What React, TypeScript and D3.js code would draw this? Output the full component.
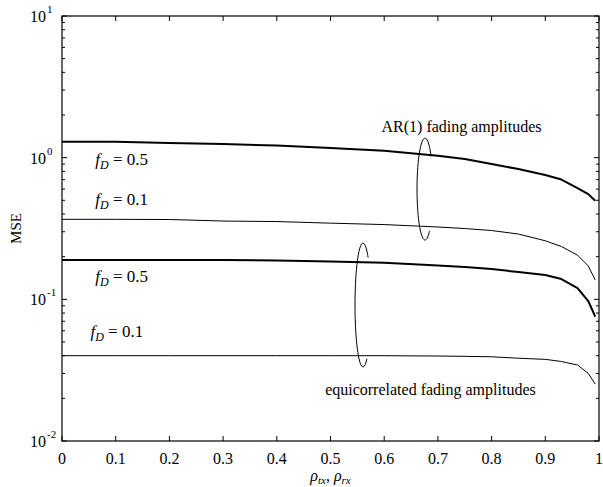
import { useEffect, useRef } from "react";
import * as d3 from "d3";

// correlation values along the x axis
const rho = [0, 0.1, 0.2, 0.3, 0.4, 0.5, 0.6, 0.7, 0.75, 0.8, 0.85, 0.9, 0.93, 0.96, 0.98, 0.993];

// MSE
const arHigh = [1.295, 1.295, 1.268, 1.247, 1.217, 1.169, 1.119, 1.031, 0.977, 0.901, 0.831, 0.754, 0.701, 0.61, 0.553, 0.497];
const arLow = [0.367, 0.367, 0.366, 0.357, 0.354, 0.345, 0.337, 0.324, 0.316, 0.306, 0.289, 0.259, 0.236, 0.205, 0.172, 0.137];
const eqHigh = [0.1894, 0.1894, 0.1894, 0.1894, 0.1879, 0.1849, 0.1813, 0.1732, 0.169, 0.1636, 0.1558, 0.1485, 0.1391, 0.1202, 0.0973, 0.0754];
const eqLow = [0.04, 0.04, 0.04, 0.04, 0.04, 0.04, 0.04, 0.0398, 0.0396, 0.0393, 0.0384, 0.0377, 0.0364, 0.0344, 0.03, 0.0252];

const series = [
  { values: arHigh, width: 2 },
  { values: arLow, width: 1 },
  { values: eqHigh, width: 2 },
  { values: eqLow, width: 1 },
];

// f_D labels: [rho, mse, value]
const fdLabels: [number, number, string][] = [
  [0.062, 0.89, "0.5"],
  [0.062, 0.463, "0.1"],
  [0.062, 0.133, "0.5"],
  [0.053, 0.0544, "0.1"],
];

const decades = [0.01, 0.1, 1, 10];
const decadeExp = ["-2", "-1", "0", "1"];

export default function App() {
  const ref = useRef<SVGSVGElement>(null);

  useEffect(() => {
    const W = 603;
    const H = 487;
    const margin = { top: 16, right: 4, bottom: 46, left: 62 };

    const x = d3.scaleLinear().domain([0, 1]).range([margin.left, W - margin.right]);
    const y = d3.scaleLog().domain([0.01, 10]).range([H - margin.bottom, margin.top]);

    const svg = d3.select(ref.current);
    svg.selectAll("*").remove();
    const font = "'Liberation Serif', 'Times New Roman', serif";
    svg.attr("font-family", font);

    const x0 = x.range()[0], x1 = x.range()[1];
    const y0 = y.range()[0], y1 = y.range()[1];

    // x ticks, inside on top and bottom
    const xt = x.ticks(10);
    svg.selectAll("line.xt")
      .data(xt)
      .enter()
      .append("line")
      .attr("x1", (d) => x(d))
      .attr("x2", (d) => x(d))
      .attr("y1", y0)
      .attr("y2", y0 - 5)
      .attr("stroke", "black");
    svg.selectAll("line.xtt")
      .data(xt)
      .enter()
      .append("line")
      .attr("x1", (d) => x(d))
      .attr("x2", (d) => x(d))
      .attr("y1", y1)
      .attr("y2", y1 + 5)
      .attr("stroke", "black");
    svg.selectAll("text.xl")
      .data(xt)
      .enter()
      .append("text")
      .attr("x", (d) => x(d))
      .attr("y", y0 + 23)
      .attr("text-anchor", "middle")
      .attr("font-size", 16)
      .text((d) => String(+d.toFixed(1)));

    // y ticks, log minor and major
    const yt = y.ticks();
    const isMajor = (d: number) => Math.abs(Math.log10(d) - Math.round(Math.log10(d))) < 1e-6;
    yt.forEach((d) => {
      const len = isMajor(d) ? 5 : 3;
      svg.append("line").attr("x1", x0).attr("x2", x0 + len).attr("y1", y(d)).attr("y2", y(d)).attr("stroke", "black");
      svg.append("line").attr("x1", x1).attr("x2", x1 - len).attr("y1", y(d)).attr("y2", y(d)).attr("stroke", "black");
    });
    decades.forEach((d, i) => {
      const t = svg.append("text")
        .attr("x", x0 - 32)
        .attr("y", y(d) + 6)
        .attr("font-size", 16);
      t.append("tspan").text("10");
      t.append("tspan").attr("dy", -9).attr("dx", 1).attr("font-size", 11).text(decadeExp[i]);
    });

    // frame
    svg.append("rect")
      .attr("x", x0)
      .attr("y", y1)
      .attr("width", x1 - x0)
      .attr("height", y0 - y1)
      .attr("fill", "none")
      .attr("stroke", "black")
      .attr("stroke-width", 1.2);

    // curves
    const line = d3.line<number>()
      .x((d, i) => x(rho[i]))
      .y((d) => y(d));
    series.forEach((s) => {
      svg.append("path")
        .attr("d", line(s.values))
        .attr("fill", "none")
        .attr("stroke", "black")
        .attr("stroke-width", s.width)
        .attr("stroke-linejoin", "round");
    });

    // f_D labels
    fdLabels.forEach(([r, m, v]) => {
      const t = svg.append("text").attr("x", x(r)).attr("y", y(m)).attr("font-size", 17);
      t.append("tspan").attr("font-style", "italic").text("f");
      t.append("tspan").attr("font-style", "italic").attr("font-size", 12).attr("dy", 4).text("D");
      t.append("tspan").attr("dy", -4).text(" = " + v);
    });

    // annotations
    svg.append("text")
      .attr("x", x(0.595))
      .attr("y", y(1.52))
      .attr("font-size", 16)
      .text("AR(1) fading amplitudes");
    svg.append("text")
      .attr("x", x(0.49))
      .attr("y", y(0.0211))
      .attr("font-size", 16)
      .text("equicorrelated fading amplitudes");

    // open ellipses around the curve pairs
    const ellipses = [
      { cx: x(0.676), cy: y(0.6), rx: 8, ry: 51, a0: 55, a1: 320 },
      { cx: x(0.5605), cy: y(0.0912), rx: 8, ry: 62, a0: 60, a1: 310 },
    ];
    const arc = d3.line<[number, number]>().curve(d3.curveBasis);
    ellipses.forEach((e) => {
      const pts = d3.range(e.a0, e.a1 + 1, 5).map((a) => {
        const t = (a * Math.PI) / 180;
        return [e.cx + e.rx * Math.cos(t), e.cy + e.ry * Math.sin(t)] as [number, number];
      });
      svg.append("path").attr("d", arc(pts)).attr("fill", "none").attr("stroke", "black").attr("stroke-width", 1);
    });

    // axis titles
    svg.append("text")
      .attr("transform", `translate(${16},${(y0 + y1) / 2}) rotate(-90)`)
      .attr("text-anchor", "middle")
      .attr("dy", 5)
      .attr("font-size", 15)
      .text("MSE");

    const xl = svg.append("text")
      .attr("x", (x0 + x1) / 2)
      .attr("y", H - 6)
      .attr("text-anchor", "middle")
      .attr("font-size", 16);
    xl.append("tspan").attr("font-style", "italic").text("ρ");
    xl.append("tspan").attr("font-style", "italic").attr("font-size", 11).attr("dy", 3).text("tx");
    xl.append("tspan").attr("dy", -3).text(", ");
    xl.append("tspan").attr("font-style", "italic").text("ρ");
    xl.append("tspan").attr("font-style", "italic").attr("font-size", 11).attr("dy", 3).text("rx");
  }, []);

  return (
    <svg
      ref={ref}
      width={603}
      height={487}
      style={{ position: "absolute", left: 0, top: 0, background: "white" }}
    />
  );
}
